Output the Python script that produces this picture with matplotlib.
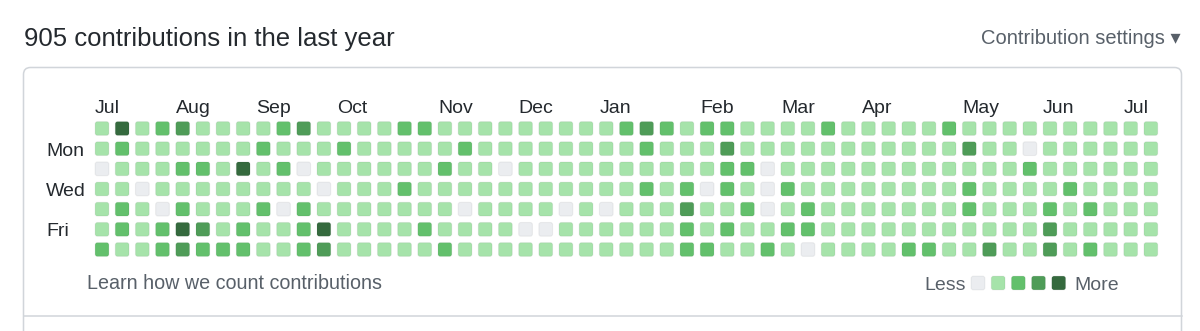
import matplotlib
matplotlib.use("Agg")
import matplotlib.pyplot as plt
from matplotlib.patches import FancyBboxPatch
from matplotlib.lines import Line2D

# ---------------- data ----------------
title = "905 contributions in the last year"
settings_label = "Contribution settings \u25be"
footer_label = "Learn how we count contributions"

month_names = ["Jul", "Aug", "Sep", "Oct", "Nov", "Dec", "Jan", "Feb", "Mar", "Apr", "May", "Jun", "Jul"]
month_start_week = [0, 4, 8, 12, 17, 21, 25, 30, 34, 38, 43, 47, 51]

day_labels = {1: "Mon", 3: "Wed", 5: "Fri"}

# contribution level per weekday (0 = none ... 4 = most), 53 weeks each
sun = [1,4,1,2,3,1,1,1,1,2,3,1,1, 1,1,2,2,1,1,1,1,1,1,1,1,1,2, 3,2,1,2,2,1,1,1,1,2,1,1,1, 1,1,2,1,1,1,1,1,1,1,1,1,1]
mon = [1,2,1,1,1,1,1,1,2,1,1,1,2, 1,1,1,1,1,2,1,1,1,1,1,1,1,1, 2,1,1,1,3,1,1,1,1,1,1,1,1, 1,1,1,3,1,1,0,1,1,1,1,1,1]
tue = [0,1,1,1,2,2,1,4,1,2,0,1,1, 1,1,1,1,2,1,1,0,1,1,1,1,1,1, 1,1,1,1,2,2,0,1,1,1,1,1,1, 1,1,1,1,1,1,2,1,1,1,1,1,1]
wed = [1,1,0,1,1,1,1,1,1,1,1,0,1, 1,1,2,1,1,1,1,1,1,1,1,1,1,1, 2,1,2,0,2,1,0,2,1,1,1,1,1, 1,1,1,2,1,1,1,1,2,1,1,1,1]
thu = [1,2,1,0,2,1,1,1,2,0,2,1,1, 1,1,1,1,1,0,1,1,1,1,0,1,0,1, 1,1,3,1,1,2,0,1,2,1,1,1,1, 1,1,1,2,1,1,1,2,1,2,1,1,1]
fri = [1,2,1,2,4,3,1,2,1,1,2,4,1, 1,1,1,2,1,1,1,1,0,0,1,1,1,1, 1,1,2,1,2,1,1,2,2,1,1,1,1, 1,1,1,1,1,1,1,3,1,1,1,1,1]
sat = [2,1,1,2,3,2,2,2,1,1,2,3,1, 1,1,1,1,2,1,1,1,1,1,1,1,1,1, 1,1,2,2,1,1,2,1,0,1,1,1,1, 2,2,1,1,3,1,1,3,1,2,1,1,1]
weekdays = [sun, mon, tue, wed, thu, fri, sat]

level_colors = ["#ebedf0", "#a6e3aa", "#63c06c", "#4f9c58", "#356a3e"]
legend_levels = [0, 1, 2, 3, 4]

# ---------------- layout ----------------
W, H = 1200, 331
fig = plt.figure(figsize=(W / 100, H / 100), dpi=100)
fig.patch.set_facecolor("white")
FONT = ["Liberation Sans", "DejaVu Sans"]
TXT = "#24292e"
MUTED = "#586069"
LBL = 14.0

# overlay axes in pixel coordinates for chrome and text
ov = fig.add_axes([0, 0, 1, 1])
ov.set_xlim(0, W)
ov.set_ylim(H, 0)
ov.axis("off")

# card border
card = FancyBboxPatch((23.5, 67.5), 1158, 400, boxstyle="round,pad=0,rounding_size=7",
                      facecolor="white", edgecolor="#d1d5da", linewidth=1.1, zorder=0)
ov.add_patch(card)
ov.add_line(Line2D([23.5, 1181.5], [316, 316], color="#d1d5da", linewidth=1.1, zorder=1))

ov.text(24, 46, title, fontsize=18.5, color=TXT, family=FONT, ha="left", va="baseline")
ov.text(1181, 44.5, settings_label, fontsize=14.5, color=MUTED, family=FONT,
        ha="right", va="baseline")
ov.text(87, 289, footer_label, fontsize=14.2, color=MUTED, family=FONT, ha="left", va="baseline")

# grid axes: one unit per week / weekday
pitch = 20.17
n_weeks = len(sun)
gx0 = 102 - pitch / 2
gy0 = 128.5 - pitch / 2
gw = n_weeks * pitch
gh = 7 * pitch
ax = fig.add_axes([gx0 / W, 1 - (gy0 + gh) / H, gw / W, gh / H])
ax.set_xlim(-0.5, n_weeks - 0.5)
ax.set_ylim(6.5, -0.5)
ax.axis("off")
ax.patch.set_alpha(0)

cell = 0.68
for d, row in enumerate(weekdays):
    for w, lvl in enumerate(row):
        ax.add_patch(FancyBboxPatch((w - cell / 2, d - cell / 2), cell, cell,
                                    boxstyle="round,pad=0,rounding_size=0.11",
                                    facecolor=level_colors[lvl],
                                    edgecolor=(27 / 255, 31 / 255, 35 / 255, 0.06),
                                    linewidth=0.8))

for name, wk in zip(month_names, month_start_week):
    ax.text(wk - cell / 2, -0.78, name, fontsize=LBL, color=TXT, family=FONT,
            ha="left", va="baseline", clip_on=False)

for d, name in day_labels.items():
    ax.text(-2.76, d + 0.35, name, fontsize=LBL, color=TXT, family=FONT,
            ha="left", va="baseline", clip_on=False)

# legend
leg_x0 = (978 - gx0) / pitch - 0.5
leg_y = (283 - gy0) / pitch - 0.5
for i, lvl in enumerate(legend_levels):
    ax.add_patch(FancyBboxPatch((leg_x0 + i * 1.0 - cell / 2, leg_y - cell / 2), cell, cell,
                                boxstyle="round,pad=0,rounding_size=0.11",
                                facecolor=level_colors[lvl],
                                edgecolor=(27 / 255, 31 / 255, 35 / 255, 0.06),
                                linewidth=0.8, clip_on=False))
ax.text(leg_x0 - 0.6, leg_y + 0.35, "Less", fontsize=LBL, color=MUTED, family=FONT,
        ha="right", va="baseline", clip_on=False)
ax.text(leg_x0 + 4 + 0.8, leg_y + 0.35, "More", fontsize=LBL, color=MUTED, family=FONT,
        ha="left", va="baseline", clip_on=False)

fig.savefig("out.png", dpi=100, facecolor="white")
